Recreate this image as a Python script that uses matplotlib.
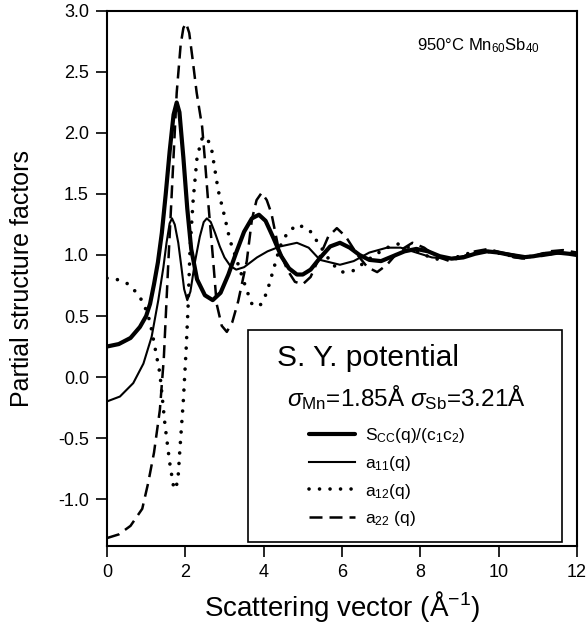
import matplotlib
matplotlib.use("Agg")
import matplotlib.pyplot as plt
from matplotlib.patches import Rectangle

plt.rcParams['font.family'] = ['Liberation Sans', 'DejaVu Sans']
plt.rcParams['mathtext.fontset'] = 'custom'
plt.rcParams['mathtext.rm'] = 'Liberation Sans'
plt.rcParams['mathtext.it'] = 'Liberation Sans:italic'
plt.rcParams['mathtext.bf'] = 'Liberation Sans:bold'

# ---- data ----
q_scc = [0.0, 0.3, 0.6, 0.84, 1.0, 1.1, 1.2, 1.3, 1.4, 1.5, 1.6, 1.7, 1.78, 1.85,
         1.95, 2.05, 2.15, 2.3, 2.5, 2.7, 2.9, 3.1, 3.3, 3.5, 3.7, 3.88, 4.05,
         4.25, 4.45, 4.65, 4.85, 5.0, 5.2, 5.45, 5.7, 5.95, 6.2, 6.45, 6.7, 7.0,
         7.3, 7.6, 7.9, 8.2, 8.5, 8.8, 9.1, 9.4, 9.7, 10.0, 10.3, 10.6, 10.9,
         11.2, 11.5, 11.8, 12.0]
s_scc = [0.25, 0.27, 0.32, 0.41, 0.50, 0.60, 0.76, 0.94, 1.18, 1.50, 1.85, 2.15,
         2.25, 2.17, 1.80, 1.38, 1.05, 0.80, 0.67, 0.63, 0.69, 0.84, 1.02, 1.19,
         1.30, 1.33, 1.28, 1.14, 0.99, 0.89, 0.84, 0.84, 0.88, 0.98, 1.07, 1.10,
         1.06, 1.00, 0.96, 0.95, 0.99, 1.03, 1.05, 1.03, 0.99, 0.97, 0.98, 1.01,
         1.03, 1.02, 1.00, 0.98, 0.99, 1.01, 1.02, 1.01, 1.00]

q_a11 = [0.0, 0.33, 0.67, 0.93, 1.14, 1.31, 1.44, 1.52, 1.6, 1.66, 1.73, 1.82,
         1.9, 1.97, 2.05, 2.13, 2.25, 2.37, 2.47, 2.55, 2.65, 2.76, 2.88, 3.0,
         3.15, 3.3, 3.5, 3.83, 4.1, 4.42, 4.85, 5.15, 5.44, 5.95, 6.3, 6.7, 7.15,
         7.5, 7.9, 8.3, 8.7, 9.1, 9.5, 9.9, 10.3, 10.7, 11.1, 11.5, 12.0]
a11 = [-0.20, -0.16, -0.05, 0.11, 0.33, 0.63, 0.90, 1.10, 1.26, 1.30, 1.25,
       1.10, 0.90, 0.72, 0.63, 0.70, 0.95, 1.15, 1.27, 1.30, 1.27, 1.18, 1.07,
       0.98, 0.91, 0.88, 0.90, 0.98, 1.03, 1.07, 1.10, 1.06, 0.96, 0.92, 0.95,
       1.02, 1.06, 1.06, 1.02, 0.98, 0.97, 0.99, 1.02, 1.03, 1.01, 0.99, 0.99,
       1.01, 1.02]

q_a12 = [0.0, 0.25, 0.5, 0.65, 0.85, 1.0, 1.1, 1.22, 1.35, 1.48, 1.6, 1.71,
         1.77, 1.82, 1.86, 1.95, 2.02, 2.07, 2.12, 2.2, 2.3, 2.42, 2.55, 2.68,
         2.84, 3.0, 3.14, 3.27, 3.57, 3.7, 3.9, 4.08, 4.25, 4.42, 4.62, 4.88,
         5.18, 5.39, 5.74, 6.0, 6.28, 6.54, 6.84, 7.15, 7.43, 7.74, 8.1, 8.5,
         8.9, 9.3, 9.7, 10.1, 10.5, 10.9, 11.3, 11.7, 12.0]
a12 = [0.81, 0.80, 0.77, 0.73, 0.65, 0.55, 0.45, 0.25, 0.03, -0.39, -0.70,
       -0.92, -0.90, -0.80, -0.60, -0.19, 0.22, 0.57, 1.05, 1.45, 1.80, 1.95,
       1.97, 1.85, 1.53, 1.32, 1.12, 1.00, 0.71, 0.60, 0.58, 0.69, 0.88, 1.07,
       1.19, 1.25, 1.20, 1.10, 0.93, 0.86, 0.87, 0.93, 1.00, 1.06, 1.09, 1.06,
       1.00, 0.96, 0.98, 1.02, 1.03, 1.01, 0.98, 0.99, 1.01, 1.02, 1.01]

q_a22 = [0.0, 0.3, 0.6, 0.9, 1.05, 1.2, 1.35, 1.45, 1.56, 1.66, 1.78, 1.88,
         1.95, 2.02, 2.1, 2.18, 2.29, 2.43, 2.5, 2.58, 2.71, 2.8, 2.93, 3.06,
         3.2, 3.35, 3.57, 3.7, 3.82, 3.95, 4.08, 4.2, 4.37, 4.6, 4.8, 5.0, 5.2,
         5.45, 5.65, 5.87, 6.1, 6.4, 6.65, 6.9, 7.15, 7.45, 7.8, 8.1, 8.4, 8.75,
         9.05, 9.4, 9.75, 10.05, 10.4, 10.7, 11.0, 11.3, 11.65, 12.0]
a22 = [-1.32, -1.29, -1.22, -1.08, -0.87, -0.62, -0.27, 0.15, 0.90, 1.55, 2.33,
       2.72, 2.86, 2.90, 2.82, 2.62, 2.33, 2.05, 1.78, 1.45, 0.96, 0.60, 0.42,
       0.37, 0.45, 0.62, 0.95, 1.29, 1.45, 1.51, 1.45, 1.34, 1.07, 0.88, 0.78,
       0.76, 0.82, 1.00, 1.15, 1.22, 1.15, 1.00, 0.90, 0.86, 0.92, 1.03, 1.10,
       1.06, 0.99, 0.95, 0.98, 1.03, 1.05, 1.02, 0.98, 0.97, 1.00, 1.03, 1.04,
       1.02]

labels = [r"S$_{\mathrm{CC}}$(q)/(c$_{\mathrm{1}}$c$_{\mathrm{2}}$)",
          r"a$_{\mathrm{11}}$(q)", r"a$_{\mathrm{12}}$(q)", r"a$_{\mathrm{22}}$ (q)"]
xticks = [0, 2, 4, 6, 8, 10, 12]
yticks = [-1.0, -0.5, 0.0, 0.5, 1.0, 1.5, 2.0, 2.5, 3.0]

# ---- figure ----
fig = plt.figure(figsize=(5.88, 6.38), dpi=100)
ax = fig.add_axes([0.182, 0.1442, 0.799, 0.8386])

l1, = ax.plot(q_scc, s_scc, color='black', lw=3.0, solid_capstyle='round',
              solid_joinstyle='round', label=labels[0])
l2, = ax.plot(q_a11, a11, color='black', lw=1.5, solid_joinstyle='round',
              label=labels[1])
l3, = ax.plot(q_a12, a12, color='black', lw=2.6, linestyle=(0, (0.01, 2.9)),
              dash_capstyle='round', label=labels[2])
l4, = ax.plot(q_a22, a22, color='black', lw=1.8, linestyle=(0, (5.2, 2.8)),
              label=labels[3])

ax.set_xlim(0, 12)
ax.set_ylim(-1.385, 3.0)
ax.set_xticks(xticks)
ax.set_xticklabels([str(t) for t in xticks])
ax.set_yticks(yticks)
ax.set_yticklabels(["%.1f" % t for t in yticks])
ax.tick_params(direction='out', length=8, width=1.2, labelsize=13, pad=5)
for s in ax.spines.values():
    s.set_linewidth(1.5)

ax.set_xlabel(r"Scattering vector (Å$^{\mathrm{-1}}$)", fontsize=20, labelpad=6)
ax.set_ylabel("Partial structure factors", fontsize=18, labelpad=17)

ax.text(0.79, 0.936, r"950°C Mn$_{\mathrm{60}}$Sb$_{\mathrm{40}}$", transform=ax.transAxes,
        fontsize=12, ha='center', va='center')

# framed key box
ax.add_patch(Rectangle((0.300, 0.0075), 0.668, 0.3965, transform=ax.transAxes,
                       fill=False, lw=1.2, edgecolor='black', zorder=5))
ax.text(0.362, 0.351, "S. Y. potential", transform=ax.transAxes, fontsize=21.5,
        ha='left', va='center')
ax.text(0.383, 0.277, r"$\sigma_{\mathrm{Mn}}$=1.85Å $\sigma_{\mathrm{Sb}}$=3.21Å",
        transform=ax.transAxes, fontsize=17.5, ha='left', va='center')

leg = ax.legend(handles=[l1, l2, l3, l4], loc='upper left',
                bbox_to_anchor=(0.43, 0.224), frameon=False, fontsize=12.5,
                handlelength=2.65, handletextpad=0.6, labelspacing=0.5,
                borderpad=0, borderaxespad=0)

fig.savefig("out.png", dpi=100)
